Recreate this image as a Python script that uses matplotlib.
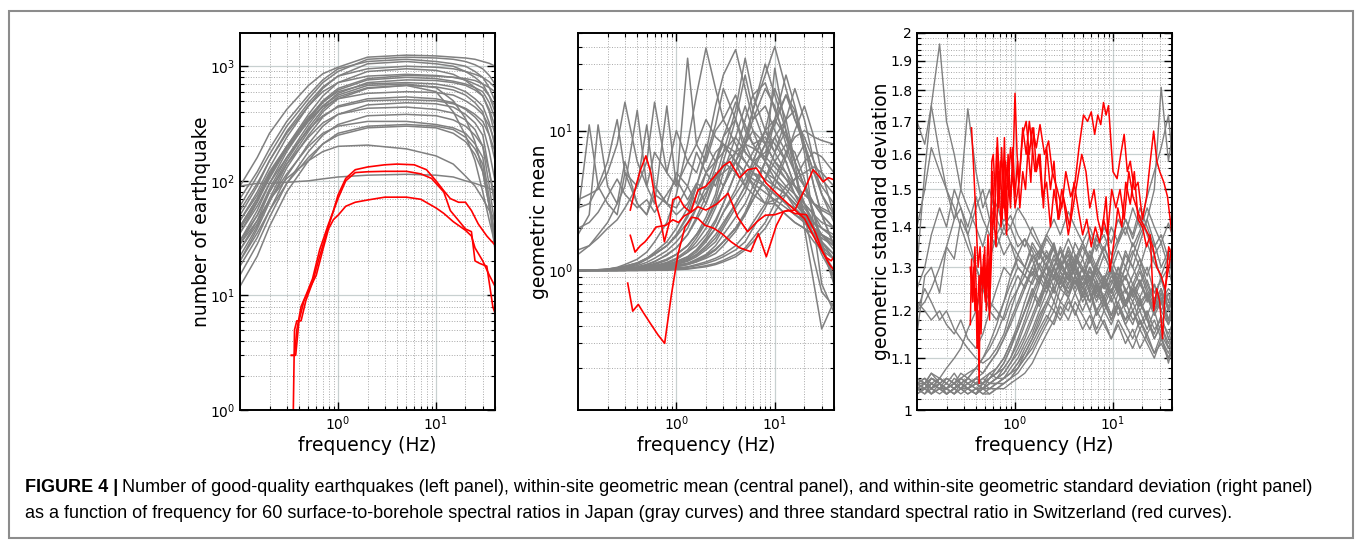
import numpy as np
import matplotlib
matplotlib.use('Agg')
from matplotlib import pyplot as plt
from matplotlib.ticker import FixedLocator, FixedFormatter, LogLocator, NullFormatter
from matplotlib.patches import Rectangle

# ---------------- left panel: number of earthquakes ----------------
f_left = [0.1, 0.15, 0.2, 0.3, 0.5, 0.7, 1, 2, 5, 10, 15, 20, 25, 30, 35, 40]
gray_left = [
    [90, 160, 260, 420, 680, 860, 980, 1200, 1250, 1230, 1200, 1180, 1150, 1100, 1060, 1000],
    [60, 110, 170, 300, 520, 720, 900, 1150, 1200, 1180, 1150, 1100, 1030, 950, 830, 700],
    [70, 120, 190, 330, 560, 760, 950, 1100, 1150, 1100, 1050, 1000, 900, 800, 650, 500],
    [45, 80, 130, 240, 450, 640, 820, 1050, 1100, 1050, 1000, 900, 800, 700, 550, 400],
    [50, 90, 150, 270, 480, 660, 820, 950, 1000, 980, 950, 900, 850, 800, 730, 650],
    [35, 65, 110, 200, 380, 550, 720, 900, 950, 920, 850, 750, 650, 550, 420, 300],
    [55, 95, 150, 260, 450, 600, 720, 820, 850, 830, 800, 760, 700, 650, 550, 450],
    [30, 55, 95, 180, 340, 480, 620, 760, 800, 780, 740, 700, 650, 600, 480, 350],
    [40, 70, 115, 200, 360, 490, 600, 700, 720, 700, 660, 600, 520, 450, 320, 200],
    [25, 45, 80, 150, 290, 420, 540, 650, 680, 660, 620, 560, 480, 400, 250, 150],
    [45, 75, 120, 200, 340, 440, 520, 580, 600, 590, 560, 500, 440, 380, 300, 220],
    [20, 38, 65, 130, 250, 360, 450, 520, 540, 520, 480, 420, 360, 300, 180, 100],
    [35, 60, 95, 160, 280, 370, 440, 500, 510, 500, 470, 430, 380, 330, 250, 180],
    [18, 32, 55, 110, 210, 300, 380, 460, 480, 470, 440, 380, 320, 250, 120, 60],
    [30, 50, 80, 140, 240, 320, 380, 430, 440, 420, 390, 340, 280, 200, 90, 40],
    [15, 28, 48, 95, 180, 250, 310, 370, 380, 370, 340, 300, 250, 200, 120, 70],
    [25, 42, 68, 115, 200, 260, 300, 330, 330, 310, 290, 260, 210, 160, 70, 30],
    [12, 22, 40, 80, 150, 210, 260, 300, 310, 300, 280, 240, 190, 140, 60, 25],
    [20, 35, 55, 95, 160, 210, 250, 290, 300, 290, 260, 220, 170, 120, 60, 35],
    [28, 45, 68, 105, 150, 180, 200, 205, 190, 165, 140, 110, 90, 70, 55, 45],
    [90, 95, 95, 97, 100, 104, 108, 112, 114, 112, 108, 100, 95, 90, 86, 82],
    [40, 70, 110, 190, 330, 450, 560, 680, 700, 650, 500, 350, 220, 120, 60, 30],
    [22, 40, 70, 140, 270, 400, 520, 640, 680, 600, 400, 250, 150, 80, 45, 28],
    [38, 66, 105, 190, 350, 500, 640, 780, 830, 820, 800, 780, 750, 700, 650, 600],
    [28, 50, 85, 160, 310, 450, 580, 720, 760, 750, 720, 680, 620, 550, 400, 250],
]
red_left_f = [
    [0.35, 0.36, 0.38, 0.42, 0.47, 0.55, 0.65, 0.8, 0.9, 1.0, 1.2, 1.5, 2, 3, 4, 6, 8, 10, 12, 14, 17, 20, 23, 27, 33, 40],
    [0.335, 0.36, 0.38, 0.42, 0.47, 0.55, 0.65, 0.8, 0.9, 1.0, 1.2, 1.5, 2, 3, 5, 7, 9, 10, 12, 14, 17, 20, 23, 25, 28, 33, 38, 40],
    [0.335, 0.37, 0.40, 0.45, 0.5, 0.6, 0.7, 0.8, 0.9, 1.0, 1.2, 1.5, 2, 3, 5, 7, 10, 12, 15, 20, 23, 25, 30, 35, 40],
]
red_left_v = [
    [1.0, 5, 6, 6, 9, 13, 22, 40, 55, 75, 105, 125, 132, 138, 140, 138, 125, 100, 82, 70, 65, 65, 55, 42, 33, 27.5],
    [3, 3, 5, 8, 10, 14, 25, 42, 55, 70, 100, 118, 120, 121, 121, 115, 105, 95, 80, 55, 45, 38, 36, 20, 19, 18, 8, 7],
    [3, 3, 6, 9, 11, 15, 25, 38, 46, 50, 60, 65, 68, 72, 72, 69, 58, 52, 44, 37, 33, 26, 20, 15, 12],
]

# ---------------- middle panel: geometric mean ----------------
f_mid = [0.1, 0.13, 0.16, 0.2, 0.25, 0.3, 0.4, 0.5, 0.6, 0.8, 1.0, 1.3, 1.6, 2, 2.5, 3, 4, 5, 6, 8, 10, 13, 16, 20, 25, 30, 40]
gray_mid = [
    [2.5, 11, 4, 3, 2.5, 5, 3, 2.5, 4, 3, 2.5, 3, 4, 3, 5, 4, 6, 5, 4, 3, 3, 2.5, 2.2, 2, 1.8, 1.6, 1.3],
    [1.8, 2.5, 11, 4, 3, 6, 3, 2.5, 3.5, 3, 2.8, 4, 3, 5, 4, 6, 5, 4, 5, 4, 3, 2.5, 2.2, 2.0, 1.6, 1.4, 1.2],
    [3.2, 3.5, 3.8, 5, 8, 16, 6, 4, 7, 5, 4, 6, 5, 8, 6, 7, 9, 7, 6, 5, 4, 3.5, 3, 2.5, 2, 1.8, 1.5],
    [2.8, 3, 4, 6, 12, 5, 4, 11, 4, 3, 5, 4, 7, 5, 6, 8, 6, 5, 4.5, 4, 3.5, 3, 2.8, 2.4, 2, 1.8, 1.6],
    [1.3, 1.5, 1.8, 2.2, 3, 4, 14, 4, 3, 15, 4, 33, 8, 6, 10, 12, 8, 6, 5, 4, 3.5, 3, 2.5, 2.2, 2, 1.7, 1.5],
    [1.4, 1.5, 1.7, 2, 2.3, 2.8, 4, 6, 16, 5, 10, 6, 8, 12, 9, 8, 7, 6, 5, 4.5, 4, 3.5, 3, 2.6, 2.2, 2, 1.7],
    [2.0, 2.2, 2.6, 3.4, 4.5, 3.5, 2.8, 3.2, 2.6, 3.5, 4.5, 3.2, 4.2, 3.8, 4.5, 5, 6, 5, 4.2, 3.6, 3.2, 2.8, 2.5, 2.3, 2.0, 1.8, 1.6],
    [1.0, 1.0, 1.0, 1.02, 1.05, 1.1, 1.2, 1.35, 1.6, 2.2, 3.5, 8, 18, 39, 20, 12, 18, 10, 8, 6, 5, 4, 3.5, 3, 2.5, 2.2, 2],
    [1.0, 1.0, 1.0, 1.0, 1.02, 1.04, 1.1, 1.2, 1.3, 1.5, 1.8, 2.5, 4, 7, 15, 25, 38, 20, 12, 15, 10, 7, 5, 4, 3, 2.5, 2],
    [1.0, 1.0, 1.0, 1.0, 1.0, 1.01, 1.03, 1.06, 1.1, 1.2, 1.3, 1.5, 1.8, 2.2, 3, 4, 6, 9, 14, 25, 40, 20, 12, 8, 5, 4, 3],
    [1.0, 1.0, 1.0, 1.0, 1.01, 1.02, 1.05, 1.1, 1.15, 1.3, 1.45, 1.8, 2.3, 3, 4.5, 7, 14, 33, 18, 10, 8, 6, 4, 3, 2.2, 1.8, 1.4],
    [1.0, 1.0, 1.0, 1.0, 1.0, 1.0, 1.02, 1.04, 1.07, 1.12, 1.2, 1.35, 1.5, 1.8, 2.3, 3, 5, 8, 12, 20, 15, 8, 5, 3, 2, 1.4, 1.0],
    [1, 1, 1, 1, 1, 1, 1.01, 1.02, 1.04, 1.08, 1.12, 1.2, 1.3, 1.5, 1.8, 2.2, 3, 4, 5.5, 8, 12, 18, 14, 8, 4, 2.5, 1.5],
    [1, 1, 1, 1, 1, 1, 1, 1.01, 1.02, 1.05, 1.08, 1.12, 1.2, 1.3, 1.5, 1.8, 2.4, 3, 4, 6, 9, 12, 14, 7, 2, 0.8, 0.5],
    [1, 1, 1, 1, 1, 1, 1.01, 1.02, 1.03, 1.06, 1.1, 1.18, 1.28, 1.45, 1.7, 2.1, 3, 4, 6, 10, 20, 12, 6, 2, 0.8, 0.38, 0.6],
    [1, 1, 1, 1, 1.01, 1.02, 1.04, 1.08, 1.12, 1.2, 1.3, 1.5, 1.8, 2.2, 3, 4, 6, 8, 10, 8, 6, 5, 4, 3.5, 3, 2.8, 2.5],
    [1, 1, 1, 1.01, 1.02, 1.04, 1.08, 1.14, 1.22, 1.38, 1.6, 2, 2.8, 4, 6, 9, 12, 8, 6, 7, 9, 6, 4, 3, 2.5, 2, 1.8],
    [1, 1, 1, 1, 1, 1, 1, 1.01, 1.02, 1.04, 1.06, 1.1, 1.15, 1.25, 1.4, 1.6, 2, 2.6, 3.5, 6, 12, 25, 15, 8, 5, 3.5, 2.5],
    [1, 1, 1, 1, 1, 1, 1, 1, 1.01, 1.02, 1.04, 1.06, 1.1, 1.15, 1.22, 1.3, 1.5, 1.8, 2.2, 3, 4.5, 7, 9, 10, 9, 8.5, 8],
    [1, 1, 1, 1.01, 1.03, 1.06, 1.12, 1.2, 1.3, 1.5, 1.8, 2.4, 3.5, 5, 7, 8, 6, 4, 3.5, 3, 3.2, 3.5, 3, 2.5, 2, 1.6, 1.2],
    [1, 1, 1, 1, 1, 1.01, 1.02, 1.04, 1.06, 1.1, 1.15, 1.25, 1.4, 1.7, 2.2, 3, 5, 8, 14, 30, 18, 10, 6, 4, 2.5, 1.5, 0.8],
    [1, 1, 1, 1, 1, 1, 1, 1, 1, 1.01, 1.02, 1.03, 1.05, 1.08, 1.12, 1.18, 1.3, 1.45, 1.7, 2.2, 3, 4, 4.5, 5, 5.5, 5, 4],
    [1, 1, 1, 1, 1, 1, 1.01, 1.02, 1.03, 1.05, 1.08, 1.12, 1.18, 1.27, 1.4, 1.6, 2, 2.5, 3.2, 4.5, 6, 8, 7, 4.5, 2.5, 1.5, 0.9],
    [1, 1, 1, 1, 1, 1.01, 1.03, 1.05, 1.08, 1.14, 1.22, 1.4, 1.7, 2.2, 3.2, 5, 9, 15, 10, 6, 4.5, 3.5, 2.8, 2.2, 1.8, 1.5, 1.2],
    [1, 1, 1, 1, 1, 1.01, 1.02, 1.04, 1.07, 1.12, 1.2, 1.35, 1.6, 2, 2.8, 4, 7, 12, 18, 22, 14, 9, 6, 4, 3, 2.5, 2],
    [1, 1, 1, 1, 1, 1, 1.01, 1.02, 1.04, 1.07, 1.1, 1.16, 1.25, 1.4, 1.6, 2, 2.8, 3.6, 5, 8, 11, 18, 12, 9, 6, 4.5, 3.5],
    [1, 1, 1, 1.01, 1.02, 1.03, 1.06, 1.1, 1.16, 1.28, 1.45, 1.8, 2.4, 3.4, 5.5, 9, 16, 11, 8, 9, 7, 5, 3.5, 2.5, 1.8, 1.3, 0.9],
    [1, 1, 1, 1, 1, 1, 1.01, 1.03, 1.05, 1.09, 1.14, 1.22, 1.35, 1.6, 2, 2.6, 3.8, 5.5, 7, 10, 12, 9, 6, 4, 2.6, 1.6, 0.8],
    [1, 1, 1, 1, 1, 1, 1, 1, 1.01, 1.02, 1.03, 1.05, 1.08, 1.12, 1.18, 1.25, 1.4, 1.6, 2, 2.8, 4, 6.5, 10, 15, 9, 5, 2.5],
    [1, 1, 1.01, 1.02, 1.04, 1.07, 1.13, 1.22, 1.32, 1.5, 1.75, 2.2, 2.8, 3.6, 4.6, 5.5, 7, 8, 7.5, 6.5, 5.5, 4.5, 4, 3.5, 3, 2.7, 2.4],
    [1, 1, 1, 1, 1, 1, 1, 1.01, 1.02, 1.04, 1.06, 1.1, 1.15, 1.22, 1.32, 1.5, 1.9, 2.5, 3.5, 6, 28, 10, 5, 2.5, 1.2, 0.7, 0.55],
    [1, 1, 1, 1, 1, 1, 1.01, 1.02, 1.03, 1.05, 1.08, 1.12, 1.18, 1.28, 1.42, 1.6, 2, 2.5, 3.2, 4.5, 7, 12, 20, 12, 6, 3.5, 2.2],
    [1, 1, 1, 1, 1.01, 1.02, 1.04, 1.07, 1.1, 1.18, 1.3, 1.5, 1.8, 2.4, 3.5, 6, 12, 25, 14, 8, 6, 4.5, 3.5, 2.8, 2.2, 1.8, 1.5],
    [1, 1, 1.01, 1.02, 1.04, 1.07, 1.13, 1.22, 1.35, 1.6, 2, 2.8, 4, 6.5, 11, 20, 12, 7, 6, 5, 4.5, 3.8, 3.2, 2.6, 2, 1.6, 1.3],
    [1, 1, 1, 1, 1, 1.01, 1.02, 1.04, 1.06, 1.1, 1.16, 1.25, 1.4, 1.65, 2, 2.6, 3.5, 4.5, 6, 10, 7, 10, 6, 8, 4, 2.5, 1.5],
    [1, 1, 1, 1, 1, 1, 1, 1, 1, 1, 1.01, 1.02, 1.04, 1.06, 1.1, 1.15, 1.25, 1.4, 1.6, 2, 2.6, 3.5, 4.5, 6, 7, 6.5, 5],
]
red_mid_f = [
    [0.32, 0.36, 0.41, 0.46, 0.54, 0.65, 0.76, 0.89, 1.04, 1.22, 1.43, 1.66, 1.95, 2.4, 2.9, 3.6, 4.4, 5.7, 6.8, 8.2, 10.4, 12.3, 16, 20, 24.5, 27.6, 31, 35, 40],
    [0.34, 0.38, 0.43, 0.49, 0.55, 0.62, 0.7, 0.755, 0.86, 0.92, 1.05, 1.2, 1.4, 1.66, 2.0, 2.5, 3.0, 3.5, 4.4, 5.3, 6.5, 8.2, 10.4, 12.3, 16, 20, 24.5, 28.6, 33, 37.5, 40],
    [0.34, 0.38, 0.43, 0.48, 0.55, 0.62, 0.78, 0.92, 1.05, 1.2, 1.4, 1.66, 2.0, 2.6, 3.35, 4.2, 5.3, 6.6, 8.0, 10.0, 13.7, 16, 21, 26, 31, 36, 40],
]
red_mid_v = [
    [0.81, 0.51, 0.57, 0.50, 0.42, 0.345, 0.30, 0.67, 1.31, 2.03, 2.4, 2.35, 2.1, 2.0, 1.83, 1.6, 1.45, 1.36, 1.83, 1.25, 2.1, 2.64, 2.7, 3.76, 5.25, 4.8, 4.3, 4.6, 4.45],
    [2.7, 3.8, 5.2, 6.6, 5.0, 3.0, 2.2, 1.6, 2.28, 3.2, 3.37, 2.85, 2.6, 3.76, 4.0, 4.8, 5.6, 6.0, 4.6, 5.25, 5.4, 4.2, 3.56, 3.2, 2.7, 2.35, 1.78, 1.47, 1.24, 1.17, 1.25],
    [1.78, 1.35, 1.5, 1.6, 1.8, 2.04, 2.1, 2.3, 2.2, 2.45, 2.6, 2.85, 2.7, 3.0, 3.56, 2.4, 1.89, 2.23, 2.48, 2.5, 2.7, 2.55, 2.5, 1.85, 1.33, 1.1, 1.0],
]

# ---------------- right panel: geometric standard deviation ----------------
f_right = [0.1, 0.12, 0.14, 0.17, 0.2, 0.24, 0.28, 0.33, 0.4, 0.47, 0.55, 0.65, 0.77, 0.9, 1.07, 1.26, 1.5, 1.77, 2.1,
           2.5, 2.9, 3.5, 4.1, 4.9, 5.8, 6.8, 8.1, 9.6, 11.3, 13.4, 15.9, 18.8, 22.3, 26.4, 31, 36.8, 40]
gray_right = [
    [1.05, 1.04, 1.06, 1.05, 1.04, 1.05, 1.04, 1.06, 1.05, 1.04, 1.06, 1.07, 1.09, 1.12, 1.16, 1.2, 1.25, 1.22, 1.28, 1.3,
     1.26, 1.32, 1.28, 1.25, 1.3, 1.27, 1.22, 1.26, 1.3, 1.24, 1.28, 1.32, 1.26, 1.22, 1.28, 1.2, 1.24],
    [1.04, 1.05, 1.03, 1.05, 1.04, 1.03, 1.05, 1.04, 1.03, 1.05, 1.04, 1.05, 1.06, 1.07, 1.09, 1.12, 1.15, 1.19, 1.22, 1.2,
     1.25, 1.23, 1.28, 1.24, 1.2, 1.25, 1.22, 1.18, 1.22, 1.25, 1.2, 1.23, 1.18, 1.15, 1.19, 1.14, 1.16],
    [1.06, 1.05, 1.07, 1.05, 1.06, 1.05, 1.07, 1.06, 1.08, 1.1, 1.13, 1.17, 1.22, 1.28, 1.32, 1.3, 1.36, 1.33, 1.38, 1.35,
     1.3, 1.34, 1.3, 1.27, 1.32, 1.28, 1.25, 1.3, 1.27, 1.33, 1.3, 1.26, 1.3, 1.24, 1.27, 1.22, 1.25],
    [1.03, 1.04, 1.03, 1.04, 1.03, 1.04, 1.03, 1.04, 1.03, 1.04, 1.03, 1.04, 1.05, 1.06, 1.07, 1.09, 1.11, 1.14, 1.17, 1.2,
     1.18, 1.22, 1.2, 1.16, 1.19, 1.15, 1.18, 1.14, 1.17, 1.13, 1.16, 1.12, 1.15, 1.11, 1.13, 1.1, 1.12],
    [1.05, 1.06, 1.04, 1.06, 1.05, 1.07, 1.05, 1.06, 1.08, 1.07, 1.09, 1.11, 1.14, 1.18, 1.22, 1.26, 1.3, 1.34, 1.38, 1.42,
     1.38, 1.44, 1.4, 1.36, 1.4, 1.35, 1.38, 1.33, 1.37, 1.42, 1.38, 1.45, 1.4, 1.35, 1.38, 1.32, 1.35],
    [1.04, 1.03, 1.05, 1.04, 1.05, 1.04, 1.05, 1.04, 1.05, 1.04, 1.05, 1.05, 1.06, 1.08, 1.1, 1.13, 1.16, 1.2, 1.24, 1.28,
     1.25, 1.29, 1.33, 1.3, 1.27, 1.31, 1.35, 1.3, 1.26, 1.3, 1.34, 1.3, 1.36, 1.31, 1.28, 1.33, 1.3],
    [1.06, 1.05, 1.04, 1.06, 1.05, 1.04, 1.06, 1.05, 1.04, 1.05, 1.07, 1.06, 1.08, 1.1, 1.14, 1.18, 1.23, 1.27, 1.24, 1.3,
     1.35, 1.3, 1.26, 1.3, 1.24, 1.2, 1.23, 1.19, 1.24, 1.2, 1.17, 1.22, 1.18, 1.14, 1.17, 1.12, 1.14],
    [1.04, 1.05, 1.04, 1.03, 1.04, 1.05, 1.04, 1.03, 1.04, 1.03, 1.03, 1.04, 1.04, 1.05, 1.06, 1.07, 1.09, 1.12, 1.15, 1.18,
     1.22, 1.2, 1.24, 1.28, 1.25, 1.3, 1.27, 1.32, 1.28, 1.34, 1.3, 1.36, 1.42, 1.5, 1.81, 1.58, 1.65],
    [1.06, 1.05, 1.07, 1.06, 1.08, 1.1, 1.12, 1.16, 1.2, 1.26, 1.32, 1.38, 1.42, 1.4, 1.45, 1.42, 1.38, 1.35, 1.32, 1.36,
     1.3, 1.27, 1.3, 1.25, 1.22, 1.26, 1.2, 1.23, 1.19, 1.22, 1.18, 1.2, 1.16, 1.2, 1.15, 1.12, 1.14],
    [1.05, 1.04, 1.05, 1.04, 1.03, 1.04, 1.05, 1.04, 1.05, 1.06, 1.05, 1.06, 1.07, 1.09, 1.11, 1.14, 1.18, 1.22, 1.26, 1.3,
     1.27, 1.24, 1.28, 1.23, 1.26, 1.22, 1.27, 1.24, 1.3, 1.27, 1.33, 1.38, 1.42, 1.36, 1.3, 1.34, 1.28],
    [1.04, 1.05, 1.06, 1.05, 1.04, 1.06, 1.05, 1.04, 1.06, 1.05, 1.06, 1.08, 1.1, 1.13, 1.17, 1.22, 1.27, 1.31, 1.28, 1.33,
     1.29, 1.35, 1.31, 1.36, 1.32, 1.28, 1.33, 1.29, 1.25, 1.3, 1.26, 1.23, 1.27, 1.22, 1.25, 1.2, 1.22],
    [1.03, 1.04, 1.05, 1.04, 1.03, 1.04, 1.05, 1.04, 1.03, 1.04, 1.04, 1.05, 1.05, 1.06, 1.08, 1.1, 1.13, 1.16, 1.19, 1.17,
     1.21, 1.18, 1.22, 1.19, 1.16, 1.2, 1.17, 1.14, 1.18, 1.15, 1.12, 1.16, 1.13, 1.1, 1.14, 1.1, 1.12],
    [1.04, 1.03, 1.04, 1.05, 1.04, 1.03, 1.04, 1.05, 1.04, 1.04, 1.05, 1.06, 1.07, 1.09, 1.12, 1.15, 1.19, 1.23, 1.27, 1.24,
     1.29, 1.26, 1.31, 1.27, 1.33, 1.29, 1.25, 1.29, 1.24, 1.28, 1.23, 1.27, 1.22, 1.26, 1.2, 1.24, 1.21],
    [1.05, 1.06, 1.05, 1.04, 1.06, 1.05, 1.06, 1.07, 1.08, 1.1, 1.12, 1.15, 1.19, 1.24, 1.28, 1.25, 1.3, 1.27, 1.33, 1.29,
     1.25, 1.28, 1.24, 1.2, 1.24, 1.19, 1.22, 1.18, 1.21, 1.17, 1.2, 1.16, 1.19, 1.14, 1.17, 1.13, 1.15],
    [1.03, 1.04, 1.03, 1.04, 1.04, 1.03, 1.04, 1.03, 1.04, 1.03, 1.04, 1.04, 1.05, 1.06, 1.08, 1.11, 1.14, 1.18, 1.22, 1.26,
     1.3, 1.34, 1.3, 1.35, 1.31, 1.37, 1.33, 1.29, 1.34, 1.3, 1.36, 1.32, 1.28, 1.33, 1.27, 1.3, 1.26],
    [1.05, 1.04, 1.06, 1.05, 1.04, 1.05, 1.06, 1.05, 1.06, 1.07, 1.09, 1.11, 1.14, 1.17, 1.21, 1.25, 1.29, 1.26, 1.31, 1.35,
     1.31, 1.27, 1.32, 1.36, 1.32, 1.38, 1.34, 1.4, 1.36, 1.42, 1.37, 1.43, 1.38, 1.33, 1.36, 1.3, 1.32],
    [1.04, 1.05, 1.04, 1.05, 1.03, 1.04, 1.05, 1.04, 1.03, 1.04, 1.05, 1.05, 1.06, 1.07, 1.08, 1.1, 1.12, 1.15, 1.18, 1.22,
     1.19, 1.23, 1.27, 1.23, 1.28, 1.24, 1.21, 1.25, 1.21, 1.18, 1.22, 1.18, 1.15, 1.18, 1.14, 1.11, 1.13],
    [1.06, 1.05, 1.04, 1.05, 1.06, 1.05, 1.04, 1.05, 1.06, 1.05, 1.06, 1.07, 1.09, 1.12, 1.16, 1.2, 1.24, 1.21, 1.26, 1.22,
     1.27, 1.23, 1.19, 1.24, 1.2, 1.16, 1.2, 1.17, 1.21, 1.17, 1.14, 1.18, 1.14, 1.11, 1.15, 1.09, 1.12],
    [1.04, 1.04, 1.05, 1.04, 1.04, 1.05, 1.04, 1.04, 1.05, 1.05, 1.06, 1.07, 1.08, 1.1, 1.13, 1.17, 1.21, 1.26, 1.31, 1.27,
     1.32, 1.37, 1.33, 1.29, 1.34, 1.3, 1.35, 1.31, 1.36, 1.4, 1.35, 1.39, 1.45, 1.4, 1.36, 1.41, 1.38],
    [1.05, 1.05, 1.04, 1.06, 1.05, 1.04, 1.05, 1.06, 1.05, 1.04, 1.05, 1.06, 1.06, 1.07, 1.09, 1.11, 1.14, 1.17, 1.21, 1.25,
     1.22, 1.26, 1.3, 1.26, 1.22, 1.27, 1.23, 1.28, 1.25, 1.21, 1.25, 1.29, 1.24, 1.2, 1.24, 1.18, 1.21],
    [1.05, 1.04, 1.05, 1.06, 1.05, 1.04, 1.05, 1.04, 1.05, 1.06, 1.07, 1.08, 1.1, 1.13, 1.16, 1.2, 1.24, 1.28, 1.25, 1.3,
     1.34, 1.3, 1.36, 1.32, 1.38, 1.34, 1.4, 1.36, 1.42, 1.38, 1.45, 1.4, 1.48, 1.55, 1.62, 1.72, 1.6],
    [1.3, 1.55, 1.75, 1.96, 1.7, 1.6, 1.5, 1.45, 1.4, 1.35, 1.42, 1.38, 1.33, 1.36, 1.3, 1.28, 1.32, 1.27, 1.3, 1.25,
     1.28, 1.24, 1.27, 1.22, 1.25, 1.2, 1.23, 1.19, 1.22, 1.18, 1.2, 1.17, 1.2, 1.16, 1.18, 1.15, 1.17],
    [1.7, 1.63, 1.75, 1.6, 1.5, 1.42, 1.45, 1.38, 1.3, 1.25, 1.2, 1.18, 1.22, 1.26, 1.3, 1.28, 1.33, 1.3, 1.26, 1.3,
     1.34, 1.29, 1.25, 1.3, 1.27, 1.23, 1.27, 1.3, 1.26, 1.22, 1.26, 1.3, 1.25, 1.21, 1.25, 1.2, 1.22],
    [1.2, 1.22, 1.25, 1.3, 1.35, 1.42, 1.5, 1.74, 1.55, 1.45, 1.5, 1.42, 1.38, 1.4, 1.35, 1.37, 1.32, 1.34, 1.3, 1.28,
     1.32, 1.27, 1.3, 1.25, 1.28, 1.24, 1.27, 1.23, 1.26, 1.22, 1.25, 1.22, 1.24, 1.2, 1.23, 1.18, 1.2],
    [1.22, 1.2, 1.18, 1.2, 1.17, 1.15, 1.18, 1.14, 1.12, 1.15, 1.2, 1.25, 1.3, 1.28, 1.33, 1.3, 1.35, 1.32, 1.37, 1.34,
     1.3, 1.33, 1.29, 1.26, 1.3, 1.25, 1.28, 1.24, 1.27, 1.22, 1.25, 1.21, 1.24, 1.2, 1.22, 1.18, 1.2],
    [1.15, 1.28, 1.3, 1.24, 1.35, 1.32, 1.42, 1.38, 1.45, 1.5, 1.42, 1.46, 1.4, 1.43, 1.38, 1.35, 1.4, 1.36, 1.32, 1.35,
     1.3, 1.33, 1.28, 1.32, 1.27, 1.3, 1.26, 1.29, 1.25, 1.28, 1.24, 1.27, 1.23, 1.26, 1.22, 1.25, 1.24],
    [1.4, 1.5, 1.62, 1.55, 1.5, 1.45, 1.4, 1.35, 1.3, 1.26, 1.22, 1.2, 1.18, 1.22, 1.25, 1.28, 1.26, 1.3, 1.27, 1.32,
     1.29, 1.25, 1.28, 1.24, 1.27, 1.23, 1.26, 1.22, 1.25, 1.21, 1.24, 1.2, 1.23, 1.19, 1.22, 1.17, 1.2],
    [1.25, 1.3, 1.38, 1.45, 1.4, 1.5, 1.45, 1.4, 1.48, 1.42, 1.38, 1.35, 1.4, 1.36, 1.33, 1.37, 1.34, 1.3, 1.34, 1.3,
     1.27, 1.31, 1.28, 1.25, 1.29, 1.26, 1.23, 1.27, 1.24, 1.21, 1.25, 1.22, 1.19, 1.23, 1.2, 1.17, 1.19],
    [1.2, 1.25, 1.22, 1.18, 1.2, 1.16, 1.14, 1.12, 1.1, 1.09, 1.1, 1.12, 1.15, 1.2, 1.25, 1.3, 1.28, 1.33, 1.3, 1.35,
     1.31, 1.28, 1.32, 1.29, 1.26, 1.3, 1.27, 1.24, 1.28, 1.25, 1.22, 1.26, 1.23, 1.2, 1.24, 1.21, 1.23],
]
red_right_f = [
    [0.36, 0.38, 0.40, 0.42, 0.44, 0.46, 0.48, 0.50, 0.52, 0.55, 0.58, 0.60, 0.63, 0.66, 0.70, 0.73, 0.77, 0.80, 0.85, 0.90,
     0.95, 1.0, 1.05, 1.1, 1.2, 1.3, 1.4, 1.5, 1.65, 1.8, 2.0, 2.2, 2.4, 2.7, 3.0, 3.3, 3.7, 4.1, 4.5, 5.0,
     5.5, 6.0, 6.5, 7.0, 7.5, 8.0, 8.5, 9.0, 10, 11, 12, 13, 14, 15, 16.5, 18, 20, 22, 24, 26, 28, 30, 33, 36, 40],
    [0.35, 0.37, 0.39, 0.41, 0.43, 0.45, 0.47, 0.50, 0.53, 0.56, 0.6, 0.64, 0.68, 0.72, 0.76, 0.8, 0.85, 0.9, 0.95, 1.0,
     1.1, 1.2, 1.3, 1.4, 1.5, 1.6, 1.75, 1.9, 2.1, 2.3, 2.5, 2.8, 3.1, 3.5, 3.9, 4.3, 4.8, 5.3, 5.8, 6.4,
     7.0, 7.7, 8.5, 9.3, 10.2, 11.2, 12.3, 13.5, 15, 16.5, 18, 20, 22, 24, 26, 28, 30, 32, 34, 37, 40],
    [0.35, 0.36, 0.37, 0.38, 0.39, 0.40, 0.41, 0.42, 0.43, 0.44, 0.45, 0.47, 0.49, 0.51, 0.53, 0.55, 0.57, 0.59, 0.62, 0.65,
     0.68, 0.71, 0.74, 0.78, 0.82, 0.86, 0.9, 0.95, 1.0, 1.06, 1.12, 1.2, 1.28, 1.36, 1.45, 1.55, 1.65, 1.8, 1.95, 2.1,
     2.3, 2.5, 2.75, 3.0, 3.3, 3.6, 4.0, 4.4, 4.9, 5.4, 6.0, 6.6, 7.3, 8.0, 8.8, 9.7, 10.7, 11.8, 13, 14.5,
     16, 17.5, 19, 21, 23, 25.5, 28, 31, 34, 37, 40],
]
red_right_v = [
    [1.68, 1.55, 1.42, 1.3, 1.35, 1.26, 1.33, 1.22, 1.3, 1.2, 1.58, 1.6, 1.48, 1.65, 1.5, 1.62, 1.45, 1.58, 1.5, 1.62,
     1.55, 1.79, 1.6, 1.52, 1.66, 1.7, 1.6, 1.68, 1.62, 1.69, 1.6, 1.64, 1.55, 1.5, 1.45, 1.55, 1.48, 1.52, 1.62, 1.72,
     1.7, 1.73, 1.66, 1.72, 1.69, 1.76, 1.72, 1.75, 1.55, 1.53, 1.6, 1.66, 1.55, 1.58, 1.5, 1.52, 1.42, 1.48, 1.58, 1.67,
     1.58, 1.55, 1.52, 1.48, 1.38],
    [1.3, 1.22, 1.35, 1.18, 1.28, 1.15, 1.3, 1.22, 1.38, 1.25, 1.45, 1.35, 1.55, 1.4, 1.5, 1.42, 1.6, 1.48, 1.55, 1.45,
     1.52, 1.68, 1.6, 1.7, 1.62, 1.55, 1.6, 1.48, 1.52, 1.4, 1.5, 1.42, 1.48, 1.38, 1.45, 1.52, 1.6, 1.55, 1.45, 1.5,
     1.42, 1.38, 1.48, 1.29, 1.36, 1.45, 1.4, 1.52, 1.46, 1.55, 1.42, 1.4, 1.35, 1.38, 1.2, 1.25, 1.22, 1.14, 1.24, 1.35,
     1.33],
    [1.17, 1.32, 1.22, 1.3, 1.2, 1.25, 1.12, 1.2, 1.05, 1.22, 1.3, 1.25, 1.35, 1.2, 1.32, 1.18, 1.42, 1.55, 1.4, 1.62,
     1.45, 1.58, 1.42, 1.65, 1.38, 1.52, 1.45, 1.62, 1.48, 1.58, 1.45, 1.55, 1.5, 1.62, 1.52, 1.68, 1.55, 1.6, 1.45, 1.62,
     1.5, 1.58, 1.42, 1.5, 1.45, 1.4, 1.52, 1.45, 1.38, 1.42, 1.35, 1.4, 1.36, 1.42, 1.38, 1.5, 1.45, 1.5, 1.42, 1.55,
     1.48, 1.45, 1.42, 1.4, 1.38, 1.35, 1.3, 1.28, 1.25, 1.3, 1.35],
]
right_ticks = [1, 1.1, 1.2, 1.3, 1.4, 1.5, 1.6, 1.7, 1.8, 1.9, 2]
right_ticklabels = ['1', '1.1', '1.2', '1.3', '1.4', '1.5', '1.6', '1.7', '1.8', '1.9', '2']

caption_bold = 'FIGURE 4 |'
caption_1 = ('Number of good-quality earthquakes (left panel), within-site geometric mean (central panel), '
             'and within-site geometric standard deviation (right panel)')
caption_2 = ('as a function of frequency for 60 surface-to-borehole spectral ratios in Japan (gray curves) '
             'and three standard spectral ratio in Switzerland (red curves).')

GRAY = '#808080'
W, H = 1355, 543

fig = plt.figure(figsize=(W / 100, H / 100), dpi=100)


def make_axes(x0, x1):
    ax = fig.add_axes([x0 / W, 1 - 410 / H, (x1 - x0) / W, (410 - 33) / H])
    ax.set_xscale('log')
    ax.set_xlim(0.1, 40)
    ax.xaxis.set_major_locator(FixedLocator([1, 10]))
    ax.xaxis.set_minor_locator(LogLocator(base=10, subs=np.arange(2, 10)))
    ax.xaxis.set_minor_formatter(NullFormatter())
    ax.tick_params(which='both', direction='in', top=True, right=True)
    ax.tick_params(which='major', length=6, width=1, labelsize=10)
    ax.tick_params(which='minor', length=3, width=0.8)
    for s in ax.spines.values():
        s.set_linewidth(1.4)
    ax.set_axisbelow(True)
    ax.set_xlabel('frequency (Hz)', fontsize=13.5, labelpad=2)
    return ax


def add_grid(ax):
    ax.grid(True, which='major', color='#c8d0d0', lw=0.9, ls='-')
    ax.grid(True, which='minor', color='#a8a8a8', lw=0.7, ls=':')


# left
ax1 = make_axes(240, 495)
for v in gray_left:
    ax1.plot(f_left, v, color=GRAY, lw=1.1)
for f, v in zip(red_left_f, red_left_v):
    ax1.plot(f, v, color='red', lw=1.2)
ax1.set_yscale('log')
ax1.set_ylim(1, 1950)
ax1.yaxis.set_major_locator(FixedLocator([1, 10, 100, 1000]))
ax1.yaxis.set_minor_locator(LogLocator(base=10, subs=np.arange(2, 10)))
ax1.yaxis.set_minor_formatter(NullFormatter())
ax1.set_ylabel('number of earthquake', fontsize=13.5, labelpad=-1)
add_grid(ax1)

# middle
ax2 = make_axes(578, 834)
for v in gray_mid:
    ax2.plot(f_mid, v, color=GRAY, lw=1.1)
for f, v in zip(red_mid_f, red_mid_v):
    ax2.plot(f, v, color='red', lw=1.2)
ax2.set_yscale('log')
ax2.set_ylim(0.1, 50)
ax2.yaxis.set_major_locator(FixedLocator([1, 10]))
ax2.yaxis.set_minor_locator(LogLocator(base=10, subs=np.arange(2, 10)))
ax2.yaxis.set_minor_formatter(NullFormatter())
ax2.set_ylabel('geometric mean', fontsize=13.5, labelpad=-1)
add_grid(ax2)

# right
ax3 = make_axes(917, 1172)
for v in gray_right:
    ax3.plot(f_right, v, color=GRAY, lw=1.0)
for f, v in zip(red_right_f, red_right_v):
    ax3.plot(f, v, color='red', lw=1.1)
ax3.set_yscale('log')
ax3.set_ylim(1, 2)
ax3.yaxis.set_major_locator(FixedLocator(right_ticks))
ax3.yaxis.set_major_formatter(FixedFormatter(right_ticklabels))
ax3.yaxis.set_minor_locator(FixedLocator([t for t in np.arange(1.02, 2.0, 0.02)]))
ax3.yaxis.set_minor_formatter(NullFormatter())
ax3.set_ylabel('geometric standard deviation', fontsize=13.5, labelpad=-1)
add_grid(ax3)

# outer frame
fig.patches.append(Rectangle((9 / W, 1 - 538 / H), (1353 - 9) / W, (538 - 10.5) / H,
                             transform=fig.transFigure, fill=False, ec='#8c8c8c', lw=1.5))

# caption
cap_font = ['Liberation Sans', 'DejaVu Sans']
tb = fig.text(25 / W, 1 - 492 / H, caption_bold, fontsize=13, weight='bold', family=cap_font)
fig.canvas.draw()
bb = tb.get_window_extent(fig.canvas.get_renderer())
fig.text((bb.x1 + 4) / W, 1 - 492 / H, caption_1, fontsize=13, family=cap_font)
fig.text(25 / W, 1 - 518 / H, caption_2, fontsize=13, family=cap_font)

fig.savefig('out.png', dpi=100)
